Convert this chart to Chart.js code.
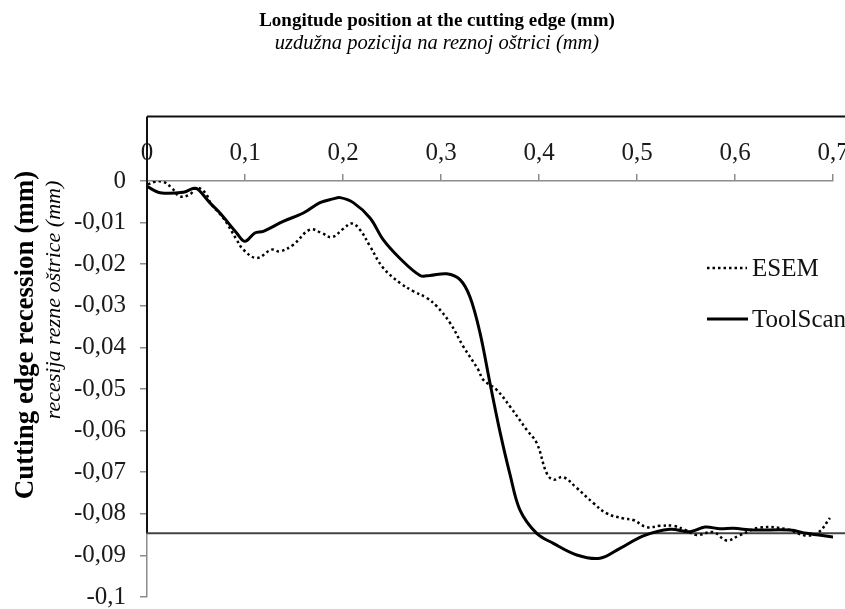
<!DOCTYPE html>
<html>
<head>
<meta charset="utf-8">
<script src="https://cdn.jsdelivr.net/npm/chart.js@4.4.1/dist/chart.umd.min.js"></script>
<style>
html,body{margin:0;padding:0;background:#fff;}
#wrap{width:845px;height:609px;position:relative;}
</style>
</head>
<body>
<div id="wrap"><canvas id="c" width="845" height="609"></canvas></div>
<script>
// ---- data (mm) ----
const esemX = [0.001,0.008,0.0166,0.025,0.0337,0.0439,0.0507,0.0592,0.066,0.0779,0.0915,0.0983,0.1119,0.1272,0.1357,0.1493,0.1663,0.1783,0.1885,0.2003,0.2089,0.2173,0.2276,0.2411,0.2582,0.2717,0.2854,0.2956,0.3092,0.3228,0.3381,0.3432,0.3568,0.3704,0.3874,0.3977,0.4078,0.4146,0.4248,0.4385,0.4554,0.4691,0.486,0.4963,0.5099,0.5235,0.5371,0.5507,0.561,0.5779,0.5915,0.6051,0.6255,0.6527,0.6714,0.685,0.6969];
const esemY = [-0.0008,-0.0002,-0.0002,-0.0016,-0.0037,-0.0032,-0.0016,-0.0028,-0.0057,-0.0089,-0.0141,-0.0165,-0.0185,-0.0165,-0.0169,-0.0153,-0.0117,-0.0125,-0.0135,-0.0115,-0.0102,-0.0117,-0.0157,-0.0209,-0.0245,-0.0265,-0.0281,-0.0301,-0.0341,-0.0398,-0.0454,-0.0478,-0.0502,-0.0542,-0.0598,-0.063,-0.0702,-0.0718,-0.0712,-0.0738,-0.0774,-0.0799,-0.0811,-0.0815,-0.0832,-0.0829,-0.0829,-0.084,-0.0851,-0.0844,-0.0864,-0.0851,-0.0833,-0.0837,-0.0852,-0.0845,-0.081];
const toolX = [0,0.0133,0.037,0.047,0.052,0.064,0.0745,0.0915,0.1,0.11,0.1187,0.139,0.1595,0.1765,0.19,0.197,0.2105,0.2276,0.241,0.2577,0.2786,0.2888,0.3058,0.3194,0.3296,0.3398,0.35,0.3602,0.3704,0.3806,0.3977,0.4146,0.4385,0.4622,0.4827,0.5065,0.5337,0.554,0.5694,0.5847,0.5983,0.6187,0.6561,0.6731,0.7003];
const toolY = [-0.0013,-0.0028,-0.0027,-0.0018,-0.002,-0.0052,-0.0077,-0.0125,-0.0145,-0.0125,-0.0121,-0.0097,-0.0077,-0.0052,-0.0043,-0.004,-0.0052,-0.0089,-0.0141,-0.0185,-0.0227,-0.0227,-0.0223,-0.0237,-0.0279,-0.0365,-0.0486,-0.0603,-0.0705,-0.0791,-0.0847,-0.0871,-0.0899,-0.0907,-0.0883,-0.0853,-0.0837,-0.0843,-0.0832,-0.0836,-0.0835,-0.0839,-0.0839,-0.0847,-0.0856];
const seriesNames = ['ESEM','ToolScan'];
const xTickLabels = ['0','0,1','0,2','0,3','0,4','0,5','0,6','0,7'];
const yTickLabels = ['0','-0,01','-0,02','-0,03','-0,04','-0,05','-0,06','-0,07','-0,08','-0,09','-0,1'];
const refLevel = -0.0847;   // horizontal reference line
const frameTop = 0.0155;    // top of frame box (y units)

const pts = (xs, ys) => xs.map((x, i) => ({x: x, y: ys[i]}));

const SERIF = '"Liberation Serif", "Times New Roman", serif';

const decor = {
  id: 'decor',
  beforeDraw(chart) {
    const c = chart.ctx;
    c.save(); c.fillStyle = '#fff'; c.fillRect(0, 0, chart.width, chart.height); c.restore();
  },
  beforeDatasetsDraw(chart) {
    const c = chart.ctx, xs = chart.scales.x, ys = chart.scales.y;
    const x0 = xs.getPixelForValue(0);
    const yTop = ys.getPixelForValue(frameTop);
    const yRef = ys.getPixelForValue(refLevel);
    c.save();
    c.lineCap = 'butt';
    c.strokeStyle = '#111'; c.lineWidth = 2;
    c.beginPath(); c.moveTo(x0, yTop); c.lineTo(chart.width, yTop); c.stroke();
    c.beginPath(); c.moveTo(x0, yTop); c.lineTo(x0, yRef); c.stroke();
    c.strokeStyle = '#444'; c.lineWidth = 2;
    c.beginPath(); c.moveTo(x0, yRef); c.lineTo(chart.width, yRef); c.stroke();
    c.restore();
  },
  afterDraw(chart) {
    const c = chart.ctx;
    c.save();
    c.fillStyle = '#000';
    c.textAlign = 'center'; c.textBaseline = 'alphabetic';
    c.font = 'bold 19px ' + SERIF;
    c.fillText('Longitude position at the cutting edge (mm)', 437, 26);
    c.font = 'italic 20.5px ' + SERIF;
    c.fillText('uzdužna pozicija na reznoj oštrici (mm)', 437, 49);
    // y titles
    c.save(); c.translate(33, 335); c.rotate(-Math.PI/2);
    c.font = 'bold 27px ' + SERIF; c.fillText('Cutting edge recession (mm)', 0, 0);
    c.restore();
    c.save(); c.translate(60, 300); c.rotate(-Math.PI/2);
    c.font = 'italic 22px ' + SERIF; c.fillText('recesija rezne oštrice (mm)', 0, 0);
    c.restore();
    // legend
    c.font = '25px ' + SERIF; c.textAlign = 'left'; c.textBaseline = 'middle';
    c.strokeStyle = '#000';
    c.lineWidth = 2.5; c.setLineDash([2.5, 3]);
    c.beginPath(); c.moveTo(707, 268); c.lineTo(747, 268); c.stroke();
    c.setLineDash([]); c.lineWidth = 3;
    c.beginPath(); c.moveTo(707, 319); c.lineTo(748, 319); c.stroke();
    c.fillStyle = '#111';
    c.fillText(seriesNames[0], 752, 269);
    c.fillText(seriesNames[1], 752, 320);
    c.restore();
  }
};

new Chart(document.getElementById('c'), {
  type: 'scatter',
  data: {
    datasets: [
      { label: seriesNames[0], data: pts(esemX, esemY), showLine: true, borderColor: '#000',
        borderWidth: 2.5, borderDash: [2.5, 3], pointRadius: 0, tension: 0.4, fill: false },
      { label: seriesNames[1], data: pts(toolX, toolY), showLine: true, borderColor: '#000',
        borderWidth: 3, pointRadius: 0, tension: 0.35, fill: false }
    ]
  },
  options: {
    responsive: false,
    animation: false,
    layout: { padding: { left: 0, top: 0, right: 12, bottom: 12 } },
    plugins: { legend: { display: false }, title: { display: false }, tooltip: { enabled: false } },
    scales: {
      x: {
        type: 'linear', position: 'top', min: 0, max: 0.7,
        border: { display: true, color: '#8c8c8c', width: 1.5 },
        grid: { drawOnChartArea: false, drawTicks: true, tickLength: 7, color: '#8c8c8c', lineWidth: 1.5 },
        ticks: { stepSize: 0.1, autoSkip: false, maxRotation: 0, padding: 6, color: '#1a1a1a',
          font: { family: SERIF, size: 25 },
          callback: v => xTickLabels[Math.round(v / 0.1)] },
        afterFit: s => { s.height = 181; s.paddingLeft = 0; s.paddingRight = 0; }
      },
      y: {
        type: 'linear', position: 'left', min: -0.1, max: 0,
        border: { display: true, color: '#8c8c8c', width: 1.5 },
        grid: { drawOnChartArea: false, drawTicks: true, tickLength: 7, color: '#8c8c8c', lineWidth: 1.5 },
        ticks: { stepSize: 0.01, autoSkip: false, padding: 14, color: '#1a1a1a',
          font: { family: SERIF, size: 25 },
          callback: v => yTickLabels[Math.round(-v / 0.01)] },
        afterFit: s => { s.width = 147; s.paddingTop = 0; s.paddingBottom = 0; }
      }
    }
  },
  plugins: [decor]
});
</script>
</body>
</html>
